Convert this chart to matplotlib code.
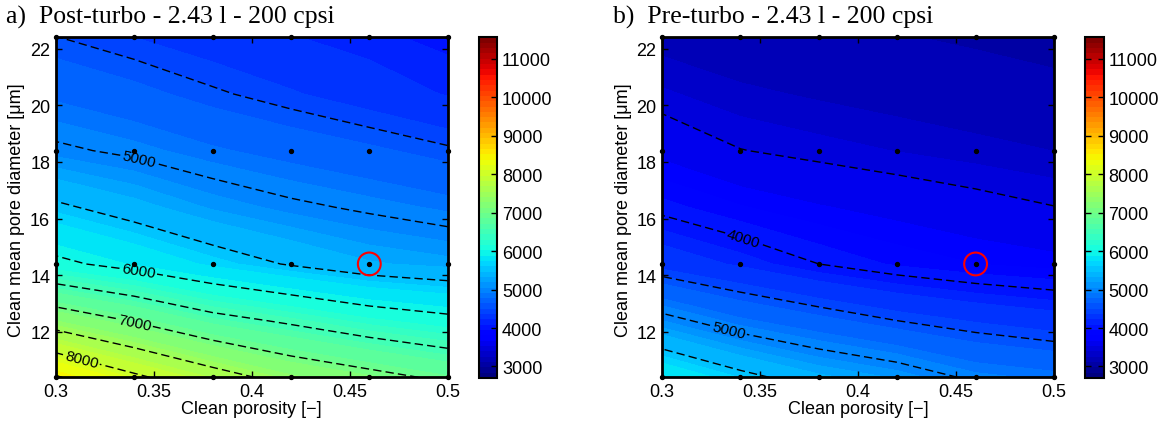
import numpy as np
import matplotlib
matplotlib.use("Agg")
from matplotlib import pyplot as plt
from matplotlib import colors as mcolors
from matplotlib import cm

plt.rcParams['font.family'] = ['Liberation Sans', 'DejaVu Sans']
plt.rcParams['lines.dashed_pattern'] = [6, 3]

# grid
porosity = [0.30, 0.34, 0.38, 0.42, 0.46, 0.50]
diameter = [10.4, 12.4, 14.4, 16.4, 18.4, 20.4, 22.4]

# simulated points (black dots) and the marked case (red circle)
sim_porosity = [0.30, 0.34, 0.38, 0.42, 0.46, 0.50]
sim_diameter = [10.4, 14.4, 18.4, 22.4]
mark_porosity = 0.46
mark_diameter = 14.4

# rows = diameter, cols = porosity
post_turbo = [
    [8538, 8079, 7684, 7339, 7129, 6923],
    [7296, 6971, 6639, 6439, 6237, 6097],
    [6075, 5880, 5660, 5475, 5320, 5250],
    [5554, 5367, 5180, 5052, 4960, 4870],
    [5046, 4949, 4825, 4728, 4635, 4531],
    [4762, 4657, 4530, 4418, 4306, 4187],
    [4505, 4400, 4300, 4210, 4130, 4060],
]
pre_turbo = [
    [5902, 5593, 5340, 5180, 4946, 4860],
    [5100, 4833, 4660, 4500, 4382, 4291],
    [4330, 4170, 4000, 3880, 3800, 3750],
    [3946, 3811, 3712, 3641, 3574, 3505],
    [3650, 3506, 3447, 3395, 3346, 3298],
    [3420, 3330, 3280, 3235, 3190, 3145],
    [3240, 3180, 3140, 3110, 3075, 3045],
]

titles = ["a)  Post-turbo - 2.43 l - 200 cpsi", "b)  Pre-turbo - 2.43 l - 200 cpsi"]
label_levels = [[5000, 6000, 7000, 8000], [4000, 5000]]
label_spots = [[(0.342, 18.0), (0.342, 14.1), (0.34, 12.3), (0.313, 11.0)],
               [(0.341, 15.2), (0.334, 12.1)]]

vmin, vmax = 2700, 11560
cmap = plt.get_cmap('jet', 64)
norm = mcolors.Normalize(vmin=vmin, vmax=vmax)

W, H = 1162, 427
fig = plt.figure(figsize=(W / 100, H / 100), dpi=100)

ax_left = [55.7, 662]
cb_left = [478.5, 1085]
title_x = [6, 613]
ylab_x = [17, 624]

X, Y = np.meshgrid(porosity, diameter)
SX, SY = np.meshgrid(sim_porosity, sim_diameter)
all_levels = np.arange(3000, 11001, 500)

for i, Z in enumerate([post_turbo, pre_turbo]):
    Z = np.array(Z, dtype=float)
    ax = fig.add_axes([ax_left[i] / W, 1 - 378.3 / H, 392 / W, 340 / H])
    ax.contourf(X, Y, Z, levels=np.arange(2700, 11700, 100), cmap=cmap, norm=norm)
    plain = [l for l in all_levels if l not in label_levels[i]]
    ax.contour(X, Y, Z, levels=plain, colors='k', linestyles='--', linewidths=1.0)
    cs = ax.contour(X, Y, Z, levels=label_levels[i], colors='k',
                    linestyles='--', linewidths=1.0)
    ax.clabel(cs, inline=True, fmt='%d', fontsize=11,
              manual=label_spots[i], inline_spacing=2)
    ax.scatter(SX.ravel(), SY.ravel(), s=8, c='k', zorder=5, clip_on=False)
    ax.scatter([mark_porosity], [mark_diameter], s=270, facecolors='none',
               edgecolors='red', linewidths=1.5, zorder=6)

    ax.set_xlim(0.3, 0.5)
    ax.set_ylim(10.4, 22.4)
    ax.set_xticks([0.3, 0.35, 0.4, 0.45, 0.5])
    ax.set_xticklabels(['0.3', '0.35', '0.4', '0.45', '0.5'])
    ax.set_yticks([12, 14, 16, 18, 20, 22])
    ax.tick_params(direction='in', top=True, right=True, length=4, width=1,
                   labelsize=13, pad=4)
    for sp in ax.spines.values():
        sp.set_linewidth(2)
    ax.set_xlabel('Clean porosity [\u2212]', fontsize=13, labelpad=0)
    fig.text(ylab_x[i] / W, 1 - 210 / H, 'Clean mean pore diameter [\u03bcm]',
             rotation=90, ha='center', va='center', fontsize=13)
    fig.text(title_x[i] / W, 1 - 24 / H, titles[i], fontsize=18.5,
             family='Liberation Serif', ha='left', va='baseline')

    cax = fig.add_axes([cb_left[i] / W, 1 - 379 / H, 18.5 / W, 340.7 / H])
    cb = fig.colorbar(cm.ScalarMappable(norm=norm, cmap=cmap), cax=cax,
                      ticks=range(3000, 11001, 1000))
    cb.ax.tick_params(direction='in', left=True, right=True, length=4,
                      width=1, labelsize=13)
    cb.outline.set_linewidth(1.5)

fig.savefig('out.png', dpi=100)
